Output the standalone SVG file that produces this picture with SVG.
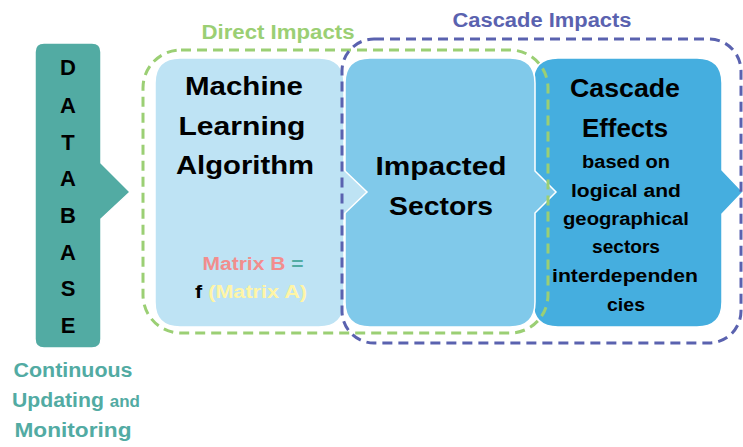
<svg xmlns="http://www.w3.org/2000/svg" width="743" height="447" viewBox="0 0 743 447">
<style>
text{font-family:"Liberation Sans",Arial,sans-serif;font-weight:bold;text-anchor:middle}
.box{stroke:#fff;stroke-width:1.5}
.big{font-size:26px;fill:#000}
.small{font-size:18px;fill:#000}
.db{font-size:22px;fill:#000}
.teal{fill:#52ABA3}
</style>
<rect width="743" height="447" fill="#fff"/>
<g id="cascade-effects">
<path class="box" fill="#45AEDF" d="M558 58 H697 Q722 58 722 83 V170 L743 192 L722 214 V302 Q722 327 697 327 H558 Q533 327 533 302 V83 Q533 58 558 58 Z"/>
<text class="big" x="625" y="97" textLength="110" lengthAdjust="spacingAndGlyphs">Cascade</text>
<text class="big" x="625" y="137" textLength="86" lengthAdjust="spacingAndGlyphs">Effects</text>
<text class="small" x="626" y="168" textLength="88" lengthAdjust="spacingAndGlyphs">based on</text>
<text class="small" x="626" y="197" textLength="110" lengthAdjust="spacingAndGlyphs">logical and</text>
<text class="small" x="626" y="225" textLength="126" lengthAdjust="spacingAndGlyphs">geographical</text>
<text class="small" x="626" y="253" textLength="68" lengthAdjust="spacingAndGlyphs">sectors</text>
<text class="small" x="625" y="282" textLength="146" lengthAdjust="spacingAndGlyphs">interdependen</text>
<text class="small" x="626" y="311" textLength="38" lengthAdjust="spacingAndGlyphs">cies</text>
</g>
<g id="impacted-sectors">
<path class="box" fill="#80C9EA" d="M370 58 H510 Q535 58 535 83 V171 L556 192 L535 213 V302 Q535 327 510 327 H370 Q345 327 345 302 V83 Q345 58 370 58 Z"/>
<text class="big" x="441" y="175" textLength="131" lengthAdjust="spacingAndGlyphs">Impacted</text>
<text class="big" x="441" y="215" textLength="104" lengthAdjust="spacingAndGlyphs">Sectors</text>
</g>
<g id="ml-algorithm">
<path class="box" fill="#BEE3F4" d="M180 58 H319 Q344 58 344 83 V170 L367 192 L344 214 V302 Q344 327 319 327 H180 Q155 327 155 302 V83 Q155 58 180 58 Z"/>
<text class="big" x="244" y="95" textLength="118" lengthAdjust="spacingAndGlyphs">Machine</text>
<text class="big" x="242" y="135" textLength="127" lengthAdjust="spacingAndGlyphs">Learning</text>
<text class="big" x="245" y="174" textLength="138" lengthAdjust="spacingAndGlyphs">Algorithm</text>
<text x="253" y="270" style="font-size:18px" textLength="101" lengthAdjust="spacingAndGlyphs"><tspan fill="#F28D8D">Matrix B</tspan><tspan fill="#52ABA3"> =</tspan></text>
<text x="251" y="298" style="font-size:18px" textLength="112" lengthAdjust="spacingAndGlyphs"><tspan fill="#000">f</tspan><tspan fill="#FFF5A6"> (Matrix A)</tspan></text>
</g>
<g id="database">
<path class="box" fill="#52ABA3" d="M44 43 H92 Q101 43 101 52 V163 L130 192 L101 219 V339 Q101 348 92 348 H44 Q35 348 35 339 V52 Q35 43 44 43 Z"/>
<text class="db" x="68" y="75">D</text>
<text class="db" x="68" y="113">A</text>
<text class="db" x="68" y="150">T</text>
<text class="db" x="68" y="186">A</text>
<text class="db" x="68" y="223">B</text>
<text class="db" x="68" y="260">A</text>
<text class="db" x="68" y="296">S</text>
<text class="db" x="68" y="333">E</text>
</g>
<g id="connectors">
<rect x="143" y="50" width="405" height="283" rx="38" fill="none" stroke="#9BCF74" stroke-width="3" stroke-dasharray="10 6"/>
<rect x="342" y="39" width="399" height="304" rx="32" fill="none" stroke="#5A62AF" stroke-width="3" stroke-dasharray="10 6"/>
</g>
<g id="labels">
<text x="278" y="39" style="font-size:20px" fill="#9BCF74" textLength="153" lengthAdjust="spacingAndGlyphs">Direct Impacts</text>
<text x="542" y="27" style="font-size:20px" fill="#5A62AF" textLength="179" lengthAdjust="spacingAndGlyphs">Cascade Impacts</text>
<text class="teal" x="73" y="377" style="font-size:20px" textLength="119" lengthAdjust="spacingAndGlyphs">Continuous</text>
<text class="teal" x="76" y="407" style="font-size:20px" textLength="128" lengthAdjust="spacingAndGlyphs">Updating <tspan style="font-size:16px">and</tspan></text>
<text class="teal" x="73" y="437" style="font-size:20px" textLength="117" lengthAdjust="spacingAndGlyphs">Monitoring</text>
</g>
</svg>
